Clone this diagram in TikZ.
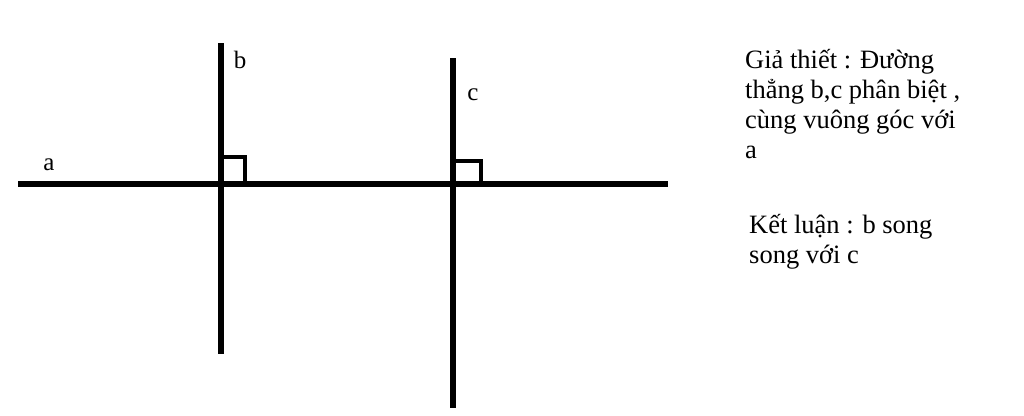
\documentclass[tikz,border=0pt]{standalone}
\usepackage{fontspec}
\setmainfont{Liberation Serif}
\usetikzlibrary{positioning}
\tikzset{
  line/.style={line width=5.4pt, line cap=butt},
  rightangle/.style={line width=4.6pt},
  lbl/.style={inner sep=0pt, anchor=base, font=\fontsize{25}{28}\selectfont},
  note/.style={inner sep=0pt, anchor=base west, align=left,
    font=\fontsize{26.5}{30}\selectfont}
}

\begin{document}
\begin{tikzpicture}[x=1pt, y=-1pt]

  \useasboundingbox (0,0) rectangle (1024,415);

  % line a
  \coordinate (aL) at (18,184);
  \coordinate (aR) at (668,184);
  % line b
  \coordinate (bT) at (221,43);
  \coordinate (bB) at (221,354);
  \coordinate (bA) at (221,184);
  % line c
  \coordinate (cT) at (453,58);
  \coordinate (cB) at (453,408);
  \coordinate (cA) at (453,184);

  \draw[line] (aL) -- (aR);
  \draw[line] (bT) -- (bB);
  \draw[line] (cT) -- (cB);

  % right angles
  \draw[rightangle] (bA) ++(0,-27) -| ++(24,27);
  \draw[rightangle] (cA) ++(0,-23) -| ++(28,23);

  \node[lbl] (la) at (49,170) {a};
  \node[lbl] (lb) at (240,68) {b};
  \node[lbl] (lc) at (473,100) {c};

  % node base = last line
  \node[note] (gt) at (745,158) {Giả thiết : Đường\\thẳng b,c phân biệt ,\\cùng vuông góc với\\a};
  \node[note] (kl) at (749,263) {Kết luận : b song\\song với c};

\end{tikzpicture}
\end{document}
